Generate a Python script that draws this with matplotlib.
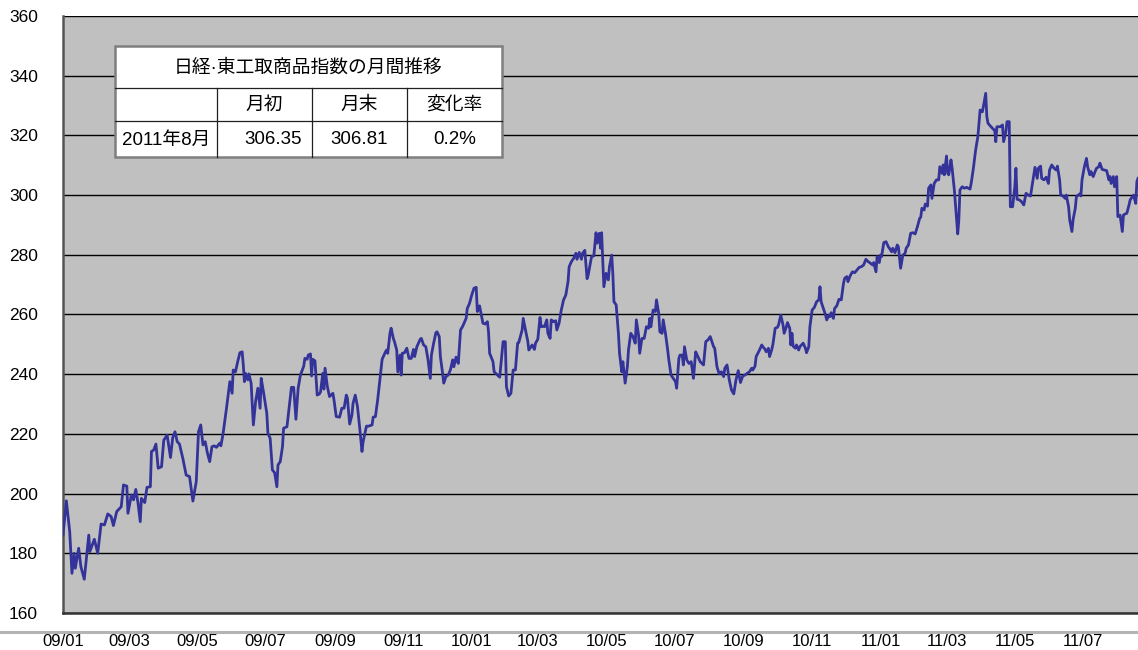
"""
日経・東工取商品指数 daily chart 2009/01 - 2011/08 with the monthly summary box.
"""
import matplotlib
matplotlib.use('Agg')
import numpy as np
import pandas as pd
import matplotlib.pyplot as plt
import matplotlib.dates as mdates
from matplotlib.lines import Line2D
from matplotlib.patches import Rectangle

# --- data: days since 2009-01-01, index level
START = pd.Timestamp('2009-01-01')
days = [
    0, 3, 6, 8, 10, 11, 14, 16, 19, 23, 24, 28, 31, 34, 37, 40, 43, 45, 48, 52,
    54, 57, 58, 61, 63, 65, 67, 69, 70, 73, 75, 78, 79, 81, 83, 85, 88, 90, 93, 96,
    98, 100, 102, 104, 107, 110, 113, 116, 119, 121, 123, 125, 127, 129, 131, 133, 135, 137, 140, 141,
    143, 146, 148, 149, 151, 152, 154, 156, 158, 160, 161, 162, 163, 165, 166, 168, 170, 172, 174, 176,
    177, 179, 182, 183, 185, 187, 189, 191, 192, 194, 196, 197, 200, 202, 204, 206, 208, 210, 212, 215,
    216, 218, 219, 221, 222, 223, 225, 227, 229, 230, 232, 233, 234, 236, 238, 241, 242, 244, 247, 249,
    251, 253, 254, 256, 258, 259, 261, 263, 265, 267, 268, 271, 273, 276, 277, 279, 281, 283, 285, 288,
    289, 290, 292, 293, 295, 296, 298, 299, 301, 302, 303, 305, 307, 309, 311, 313, 314, 316, 319, 320,
    322, 324, 326, 328, 329, 331, 333, 334, 336, 337, 339, 340, 342, 344, 346, 348, 349, 351, 353, 355,
    357, 360, 361, 363, 365, 367, 369, 370, 372, 373, 375, 377, 379, 380, 381, 384, 385, 387, 390, 392,
    393, 395, 396, 398, 400, 402, 404, 406, 407, 410, 411, 413, 415, 416, 419, 421, 422, 424, 426, 427,
    429, 430, 432, 433, 435, 436, 438, 440, 441, 443, 445, 447, 449, 451, 452, 454, 456, 458, 459, 461,
    463, 464, 466, 468, 469, 472, 474, 476, 477, 479, 480, 481, 482, 483, 485, 487, 488, 490, 491, 492,
    494, 496, 497, 499, 500, 502, 504, 505, 507, 509, 511, 512, 514, 515, 517, 519, 521, 523, 524, 525,
    527, 529, 530, 532, 533, 535, 536, 538, 540, 541, 543, 545, 547, 548, 550, 551, 553, 554, 555, 557,
    559, 561, 563, 565, 567, 569, 572, 574, 576, 578, 581, 582, 584, 586, 588, 590, 591, 593, 595, 597,
    599, 601, 603, 605, 607, 609, 611, 613, 615, 616, 618, 619, 622, 624, 625, 627, 628, 630, 631, 633,
    634, 636, 638, 639, 641, 643, 644, 646, 647, 649, 650, 651, 652, 654, 655, 657, 658, 661, 663, 664,
    666, 667, 669, 671, 673, 675, 676, 677, 679, 681, 682, 684, 685, 686, 688, 689, 691, 693, 695, 697,
    698, 700, 701, 703, 705, 707, 709, 711, 713, 715, 717, 719, 721, 723, 724, 726, 727, 729, 730, 731,
    733, 735, 737, 738, 740, 741, 743, 745, 746, 748, 750, 752, 753, 755, 757, 759, 761, 763, 765, 766,
    767, 769, 770, 772, 773, 775, 776, 778, 780, 782, 783, 785, 786, 787, 789, 790, 791, 793, 794, 796,
    798, 799, 800, 801, 803, 805, 807, 810, 811, 813, 815, 817, 819, 821, 822, 824, 825, 826, 828, 831,
    832, 833, 834, 837, 839, 840, 842, 843, 845, 846, 848, 850, 851, 852, 854, 856, 858, 860, 862, 864,
    866, 868, 870, 871, 873, 874, 876, 878, 880, 881, 883, 885, 887, 888, 890, 891, 893, 895, 896, 898,
    899, 901, 902, 904, 905, 908, 909, 910, 912, 914, 915, 917, 918, 920, 922, 923, 925, 926, 928, 930,
    932, 934, 935, 936, 938, 939, 941, 942, 944, 946, 947, 948, 950, 952, 953, 955, 956, 958, 959, 960,
]
index_level = [
    186.1, 197.6, 187.2, 173.3, 180.0, 175.0, 181.7, 175.5, 171.3, 186.1, 180.6, 184.7, 180.0, 189.8, 189.5, 193.2, 192.3, 189.3, 194.0, 195.6,
    202.9, 202.5, 193.4, 199.5, 197.9, 201.4, 196.8, 190.6, 198.4, 197.0, 202.1, 202.3, 214.1, 214.6, 216.6, 208.5, 209.0, 217.9, 219.6, 212.1,
    218.8, 220.7, 217.4, 216.6, 211.8, 206.2, 205.7, 197.5, 204.0, 220.7, 223.0, 216.3, 217.4, 213.5, 210.7, 215.7, 216.0, 215.5, 216.9, 216.0,
    220.2, 228.6, 234.7, 237.5, 233.6, 241.4, 240.8, 244.2, 247.2, 247.5, 243.1, 237.5, 240.3, 238.1, 240.1, 237.0, 223.0, 230.8, 235.3, 228.6,
    238.6, 234.1, 226.9, 220.2, 218.5, 207.9, 207.0, 202.3, 209.6, 210.7, 215.7, 221.9, 222.4, 229.1, 235.6, 235.6, 224.9, 235.3, 239.7, 242.7,
    245.3, 245.0, 246.4, 246.8, 239.4, 245.0, 244.5, 233.0, 233.4, 234.1, 240.3, 235.0, 242.0, 236.0, 232.5, 233.6, 231.4, 225.8, 225.6, 228.6,
    228.6, 233.0, 231.9, 223.3, 226.3, 230.2, 233.0, 229.1, 221.9, 214.1, 217.4, 222.6, 222.6, 223.0, 225.6, 225.8, 231.4, 238.1, 245.0, 247.5,
    248.1, 247.0, 253.7, 255.4, 252.0, 250.9, 248.1, 240.8, 246.4, 239.7, 247.0, 247.2, 248.7, 245.3, 245.3, 248.3, 245.9, 249.2, 251.7, 252.0,
    249.8, 249.2, 244.8, 238.6, 246.4, 250.4, 253.9, 254.2, 252.6, 245.9, 240.3, 237.0, 239.2, 239.7, 241.5, 244.8, 242.5, 245.7, 243.6, 254.8,
    256.1, 258.7, 262.0, 263.7, 266.5, 268.8, 269.1, 261.0, 262.9, 261.0, 257.1, 256.8, 257.6, 254.2, 247.0, 244.2, 240.8, 240.1, 239.0, 247.0,
    250.9, 250.9, 235.8, 232.7, 233.6, 241.4, 241.4, 250.4, 250.6, 254.8, 258.7, 254.8, 251.2, 248.1, 249.8, 248.3, 250.4, 251.7, 259.0, 255.9,
    256.1, 255.9, 258.2, 253.7, 252.0, 258.2, 257.6, 257.9, 254.8, 257.1, 261.5, 264.9, 266.5, 271.0, 276.0, 277.7, 278.8, 280.5, 278.5, 280.8,
    278.5, 280.5, 281.5, 272.0, 273.2, 279.4, 279.6, 287.4, 283.9, 287.2, 282.2, 287.4, 278.3, 269.3, 273.8, 271.6, 276.0, 279.9, 273.8, 264.3,
    263.2, 253.7, 247.0, 240.8, 244.2, 237.0, 242.5, 248.1, 253.7, 252.6, 250.4, 258.2, 253.1, 247.0, 252.0, 252.0, 255.9, 255.4, 258.7, 255.9,
    261.5, 261.0, 264.9, 260.3, 254.2, 253.7, 258.2, 253.7, 248.1, 244.8, 239.7, 238.6, 237.5, 235.3, 245.3, 246.4, 246.4, 243.1, 249.2, 244.8,
    243.6, 244.2, 238.6, 247.5, 245.9, 244.2, 243.1, 250.9, 251.5, 252.6, 249.2, 248.7, 242.5, 240.1, 240.8, 239.2, 242.0, 243.1, 238.1, 234.7,
    233.4, 238.1, 241.2, 237.2, 239.4, 239.7, 240.3, 240.8, 242.0, 241.4, 242.7, 245.9, 248.1, 249.8, 249.2, 248.3, 247.5, 248.7, 245.9, 248.3,
    250.1, 255.4, 255.7, 256.5, 259.8, 256.5, 253.7, 255.9, 257.3, 255.4, 249.8, 253.7, 249.4, 248.7, 249.8, 248.1, 249.2, 250.4, 248.7, 247.2,
    249.2, 255.9, 261.5, 262.4, 264.3, 264.9, 269.3, 264.3, 262.0, 259.8, 258.2, 259.8, 259.3, 260.6, 258.7, 262.0, 262.9, 265.1, 264.9, 270.4,
    272.1, 272.7, 271.0, 273.0, 274.3, 274.0, 274.9, 275.8, 276.0, 276.6, 278.5, 277.7, 277.2, 276.6, 277.4, 274.3, 279.4, 277.4, 279.9, 279.4,
    284.1, 284.4, 282.7, 282.2, 281.0, 282.2, 280.7, 283.3, 282.7, 275.5, 279.9, 280.5, 282.2, 283.3, 287.2, 287.4, 287.0, 289.4, 292.2, 292.6,
    295.6, 295.0, 297.0, 296.3, 302.3, 303.4, 298.9, 303.9, 305.1, 305.1, 309.5, 307.3, 310.1, 306.8, 313.1, 307.3, 306.8, 311.8, 309.0, 301.7,
    291.7, 287.0, 291.7, 301.7, 302.8, 302.3, 302.6, 302.0, 303.9, 309.0, 315.1, 319.6, 328.5, 327.9, 329.8, 334.1, 326.3, 324.1, 323.2, 322.0,
    321.8, 317.9, 322.9, 322.9, 323.5, 317.9, 321.2, 324.6, 324.6, 296.1, 296.1, 302.8, 309.0, 298.6, 298.4, 297.8, 296.7, 300.6, 300.0, 299.7,
    304.5, 309.3, 305.6, 309.0, 309.7, 305.6, 305.1, 306.0, 303.9, 308.4, 310.1, 309.0, 308.4, 309.7, 305.1, 300.0, 299.7, 298.9, 300.0, 296.1,
    291.7, 287.8, 291.7, 295.6, 299.5, 300.4, 299.7, 305.1, 309.3, 312.3, 309.5, 306.8, 307.9, 306.2, 308.2, 309.0, 309.5, 310.7, 308.6, 308.4,
    308.2, 305.1, 306.2, 303.9, 306.2, 302.8, 306.2, 292.8, 293.3, 287.8, 293.3, 293.6, 293.9, 296.7, 298.4, 299.5, 300.0, 297.2, 304.5, 305.6,
]
dates = START + pd.to_timedelta(days, unit='D')

# summary box
box_title   = '日経·東工取商品指数の月間推移'
box_header  = ['', '月初', '月末', '変化率']
box_row     = ['2011年8月', '306.35', '306.81', '0.2%']

Y_TICKS = np.arange(160, 361, 20)

W, H = 1138, 650
fig = plt.figure(figsize=(W / 100, H / 100), dpi=100)
ax = fig.add_axes([63 / W, 1 - 613 / H, 1 - 63 / W, (613 - 16) / H])

ax.set_facecolor('#c0c0c0')
ax.plot(dates, index_level, color='#333399', lw=2.0, solid_joinstyle='round', zorder=3)

ax.set_ylim(160, 360)
ax.set_yticks(Y_TICKS)
ax.set_xlim(START, START + pd.Timedelta(days=960))
ax.xaxis.set_major_locator(mdates.MonthLocator(bymonth=[1, 3, 5, 7, 9, 11]))
ax.xaxis.set_major_formatter(mdates.DateFormatter('%y/%m'))

ax.yaxis.grid(True, color='black', lw=1.0)
ax.set_axisbelow(True)
for s in ['top', 'right']:
    ax.spines[s].set_visible(False)
ax.spines['left'].set_color('#555555')
ax.spines['left'].set_linewidth(1.8)
ax.spines['bottom'].set_color('#333333')
ax.spines['bottom'].set_linewidth(1.8)

ax.tick_params(axis='y', length=0, pad=18, labelsize=12.5)
ax.tick_params(axis='x', length=0, pad=15, labelsize=12)
for lbl in ax.get_yticklabels() + ax.get_xticklabels():
    lbl.set_family('Liberation Sans')

# separator strip between plot and date labels
fig.add_artist(Line2D([0, 1], [1 - 631.5 / H] * 2, transform=fig.transFigure,
                      color='#b4b4b4', lw=2.2))

# --- monthly summary box (figure pixel layout)
def fx(x): return x / W
def fy(y): return 1 - y / H

cols = [115, 217, 312, 407, 502]
rows = [46, 88, 121, 157]
fig.add_artist(Rectangle((fx(cols[0]), fy(rows[-1])), fx(cols[-1] - cols[0]),
                         (rows[-1] - rows[0]) / H, transform=fig.transFigure,
                         facecolor='white', edgecolor='#7f7f7f', lw=1.8, zorder=5))
line_kw = dict(transform=fig.transFigure, color='#202020', lw=0.9, zorder=6)
for y in rows[1:-1]:
    fig.add_artist(Line2D([fx(cols[0]), fx(cols[-1])], [fy(y)] * 2, **line_kw))
for x in cols[1:-1]:
    fig.add_artist(Line2D([fx(x)] * 2, [fy(rows[1]), fy(rows[-1])], **line_kw))

txt_kw = dict(family=['Liberation Sans', 'Noto Sans CJK JP'], fontsize=13.5,
              va='center', zorder=7)
fig.text(fx((cols[0] + cols[-1]) / 2), fy((rows[0] + rows[1]) / 2 + 1), box_title,
         ha='center', **txt_kw)
for i, t in enumerate(box_header):
    fig.text(fx((cols[i] + cols[i + 1]) / 2), fy((rows[1] + rows[2]) / 2 + 1), t,
             ha='center', **txt_kw)
for i, t in enumerate(box_row):
    if i == 1:
        fig.text(fx(cols[i + 1] - 10), fy((rows[2] + rows[3]) / 2 + 1), t, ha='right', **txt_kw)
    else:
        fig.text(fx((cols[i] + cols[i + 1]) / 2), fy((rows[2] + rows[3]) / 2 + 1), t,
                 ha='center', **txt_kw)

fig.savefig('out.png', dpi=100)
print('wrote out.png', len(days), len(index_level))
